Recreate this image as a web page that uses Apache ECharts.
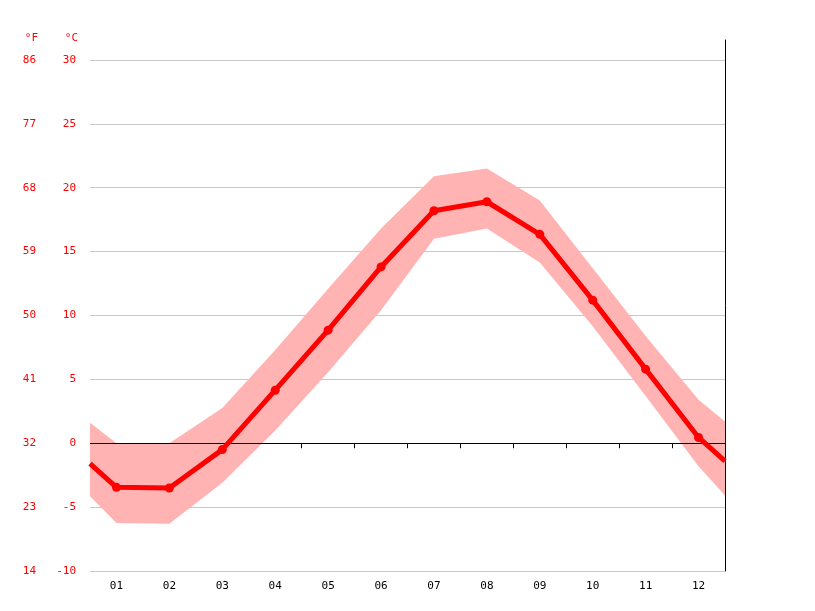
<!DOCTYPE html>
<html><head><meta charset="utf-8">
<script src="https://cdn.jsdelivr.net/npm/echarts@6/dist/echarts.min.js"></script>
<style>body{margin:0}#chart{width:815px;height:611px}</style>
</head><body><div id="chart"></div>
<script>
var months = ['01','02','03','04','05','06','07','08','09','10','11','12'];
// x positions: half month before Jan, each month, half month after Dec
var xPos = [0.5,1,2,3,4,5,6,7,8,9,10,11,12,12.5];
var avgTemp = [-1.6,-3.45,-3.5,-0.5,4.15,8.85,13.8,18.2,18.9,16.35,11.2,5.8,0.45,-1.4];
var maxTemp = [1.6,0,0,2.75,7.3,12.1,16.8,20.9,21.5,19.0,13.7,8.4,3.4,1.7];
var minTemp = [-4.15,-6.25,-6.3,-3.1,1.0,5.55,10.4,16.0,16.8,14.15,9.15,3.7,-1.8,-4.1];

var bandData = xPos.map(function(x, i){ return [x, minTemp[i], maxTemp[i]]; });
var avgData = xPos.map(function(x, i){
	var p = [x, avgTemp[i]];
	return (i === 0 || i === xPos.length - 1) ? {value: p, symbol: 'none'} : p;
});

var chart = echarts.init(document.getElementById('chart'));
var font = 'DejaVu Sans Mono';
var yBase = {type: 'value', min: -10, max: 31.56, interval: 5};
chart.setOption({
	animation: false,
	grid: {left: 90, right: 90, top: 40, bottom: 40},
	xAxis: [
		{type: 'value', min: 0.5, max: 12.5, show: false},
		{type: 'category', data: months, position: 'bottom', boundaryGap: true,
			axisLine: {show: false},
			axisTick: {show: true, lineStyle: {color: '#000'}, length: 5},
			axisLabel: {color: '#000', fontFamily: font, fontSize: 11, margin: 10}}
	],
	yAxis: [
		Object.assign({}, yBase, {
			name: '°C', nameLocation: 'end', nameGap: -4,
			nameTextStyle: {color: '#f00', fontFamily: font, fontSize: 11, align: 'right', padding: [0, 12, 0, 0]},
			axisLine: {show: false}, axisTick: {show: false},
			axisLabel: {color: '#f00', fontFamily: font, fontSize: 11, margin: 14, showMaxLabel: false},
			splitLine: {lineStyle: {color: '#c8c8c8'}, showMaxLine: false}}),
		Object.assign({}, yBase, {position: 'left', offset: 40,
			name: '°F', nameLocation: 'end', nameGap: -4,
			nameTextStyle: {color: '#f00', fontFamily: font, fontSize: 11, align: 'right', padding: [0, 12, 0, 0]},
			axisLine: {show: false}, axisTick: {show: false}, splitLine: {show: false},
			axisLabel: {color: '#f00', fontFamily: font, fontSize: 11, margin: 14, showMaxLabel: false,
				formatter: function(v){ return Math.round(v * 1.8 + 32); }}}),
		Object.assign({}, yBase, {position: 'right',
			axisLine: {show: true, lineStyle: {color: '#000'}}, axisTick: {show: false},
			axisLabel: {show: false}, splitLine: {show: false}})
	],
	series: [
		{type: 'custom', data: bandData, silent: true, z: 1,
			encode: {x: 0, y: [1, 2]},
			renderItem: function(params, api){
				if(params.dataIndex !== 0) return null;
				var top = [], bottom = [];
				for(var i = 0; i < bandData.length; i++){
					top.push(api.coord([bandData[i][0], bandData[i][2]]));
					bottom.unshift(api.coord([bandData[i][0], bandData[i][1]]));
				}
				return {type: 'polygon', shape: {points: top.concat(bottom)},
					style: {fill: '#ffb3b3'}};
			}},
		{type: 'line', data: avgData, symbol: 'circle', symbolSize: 9,
			lineStyle: {color: '#f00', width: 5}, itemStyle: {color: '#f00'}, z: 5,
			markLine: {symbol: 'none', silent: true, label: {show: false}, z: 2,
				lineStyle: {color: '#000', type: 'solid', width: 1},
				data: [{yAxis: 0}]}}
	]
});
</script>
</body></html>
